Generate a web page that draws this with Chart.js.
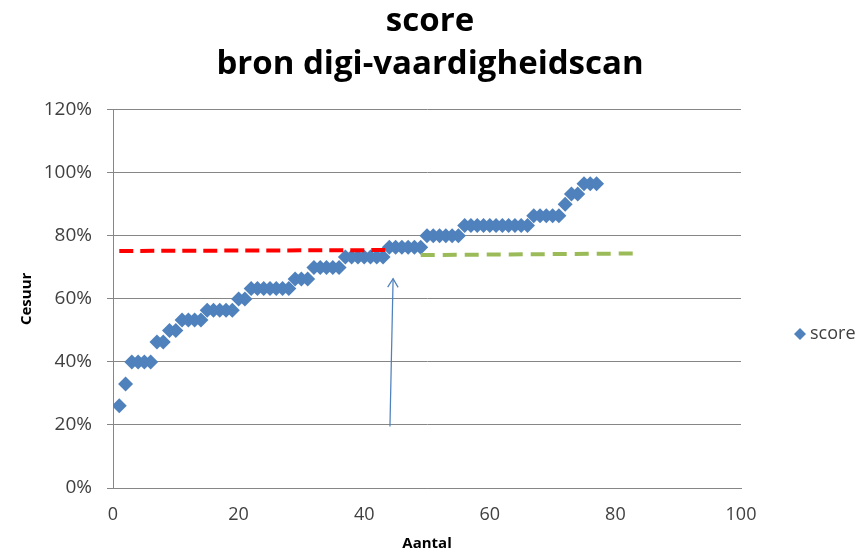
<!DOCTYPE html>
<html>
<head>
<meta charset="utf-8">
<script src="https://cdn.jsdelivr.net/npm/chart.js@4.4.1/dist/chart.umd.min.js"></script>
<style>
  html, body { margin: 0; padding: 0; background: #fff; }
  #wrap { width: 860px; height: 553px; }
</style>
</head>
<body>
<div id="wrap"><canvas id="scoreChart"></canvas></div>
<script>
"use strict";
// aantal (x) en score in % (y)
const aantal = [1, 2, 3, 4, 5, 6, 7, 8, 9, 10, 11, 12, 13, 14, 15, 16, 17, 18, 19, 20,
    21, 22, 23, 24, 25, 26, 27, 28, 29, 30, 31, 32, 33, 34, 35, 36, 37, 38, 39, 40,
    41, 42, 43, 44, 45, 46, 47, 48, 49, 50, 51, 52, 53, 54, 55, 56, 57, 58, 59, 60,
    61, 62, 63, 64, 65, 66, 67, 68, 69, 70, 71, 72, 73, 74, 75, 76, 77];
const score = [26.1, 33, 40, 40, 40, 40, 46.3, 46.3, 50, 50, 53.3, 53.3, 53.3, 53.3,
    56.4, 56.4, 56.4, 56.4, 56.4, 60, 60, 63.3, 63.3, 63.3, 63.3, 63.3, 63.3, 63.3,
    66.3, 66.3, 66.3, 70, 70, 70, 70, 70, 73.3, 73.3, 73.3, 73.3, 73.3, 73.3, 73.3,
    76.4, 76.4, 76.4, 76.4, 76.4, 76.4, 80, 80, 80, 80, 80, 80,
    83.3, 83.3, 83.3, 83.3, 83.3, 83.3, 83.3, 83.3, 83.3, 83.3, 83.3,
    86.4, 86.4, 86.4, 86.4, 86.4, 90, 93.3, 93.3, 96.5, 96.5, 96.5];
// cesuurlijnen en pijl
const roodX = [1, 43.6];
const roodY = [75.2, 75.5];
const groenX = [49, 82.8];
const groenY = [73.9, 74.4];
const pijlX = [44.1, 44.6];
const pijlY = [19.5, 66.4];
const xTicks = [0, 20, 40, 60, 80, 100];
const yTicks = [0, 20, 40, 60, 80, 100, 120];

const blauw = '#4F81BD';
const grijs = '#868686';
const tekst = '#404040';

function toPoints(xs, ys) {
    return xs.map((x, i) => ({ x: x, y: ys[i] }));
}

Chart.defaults.font.family = "'Open Sans', sans-serif";
Chart.defaults.color = tekst;

// pijlpunt bovenaan de pijl-lijn
const arrowHead = {
    id: 'arrowHead',
    afterDatasetsDraw(chart) {
        const meta = chart.getDatasetMeta(3);
        if (!meta || !meta.data.length) return;
        const p0 = meta.data[0];
        const p1 = meta.data[meta.data.length - 1];
        const ang = Math.atan2(p1.y - p0.y, p1.x - p0.x);
        const len = 10;
        const ctx = chart.ctx;
        ctx.save();
        ctx.strokeStyle = blauw;
        ctx.lineWidth = 1.25;
        ctx.beginPath();
        ctx.moveTo(p1.x - len * Math.cos(ang - 0.55), p1.y - len * Math.sin(ang - 0.55));
        ctx.lineTo(p1.x, p1.y);
        ctx.lineTo(p1.x - len * Math.cos(ang + 0.55), p1.y - len * Math.sin(ang + 0.55));
        ctx.stroke();
        ctx.restore();
    }
};

// legenda rechts naast het plotgebied
const scoreLegend = {
    id: 'scoreLegend',
    afterDraw(chart) {
        const area = chart.chartArea;
        const ctx = chart.ctx;
        const cx = area.right + 59;
        const cy = area.top + (area.bottom - area.top) * 0.593;
        ctx.save();
        ctx.fillStyle = blauw;
        ctx.beginPath();
        ctx.moveTo(cx, cy - 6);
        ctx.lineTo(cx + 6, cy);
        ctx.lineTo(cx, cy + 6);
        ctx.lineTo(cx - 6, cy);
        ctx.closePath();
        ctx.fill();
        ctx.fillStyle = tekst;
        ctx.font = "18px 'Open Sans', sans-serif";
        ctx.textBaseline = 'middle';
        ctx.fillText(chart.data.datasets[0].label, cx + 10, cy);
        ctx.restore();
    }
};

const context = document.getElementById('scoreChart');
const scoreChart = new Chart(context, {
    type: 'scatter',
    data: {
        datasets: [{
                label: 'score',
                data: toPoints(aantal, score),
                pointStyle: 'rectRot',
                pointRadius: 7.5,
                pointBackgroundColor: blauw,
                pointBorderWidth: 0,
                order: 2,
            }, {
                label: 'cesuur rood',
                type: 'line',
                data: toPoints(roodX, roodY),
                borderColor: '#FF0000',
                borderWidth: 4,
                borderDash: [14, 7],
                pointRadius: 0,
                order: 1,
            }, {
                label: 'cesuur groen',
                type: 'line',
                data: toPoints(groenX, groenY),
                borderColor: '#9BBB59',
                borderWidth: 4,
                borderDash: [14, 8],
                pointRadius: 0,
                order: 1,
            }, {
                label: 'pijl',
                type: 'line',
                data: toPoints(pijlX, pijlY),
                borderColor: blauw,
                borderWidth: 1.25,
                pointRadius: 0,
                order: 0,
            }],
    },
    options: {
        responsive: true,
        maintainAspectRatio: false,
        animation: false,
        layout: { padding: 0 },
        plugins: {
            legend: { display: false },
            tooltip: { enabled: false },
            title: {
                display: true,
                text: ['score', 'bron digi-vaardigheidscan'],
                color: '#000',
                font: { size: 33, weight: 'bold', lineHeight: 1.3 },
                padding: { top: 0, bottom: 24 },
            },
        },
        scales: {
            x: {
                type: 'linear',
                min: 0,
                max: 100,
                afterBuildTicks: axis => { axis.ticks = xTicks.map(v => ({ value: v })); },
                afterFit: axis => { axis.height = 65; },
                grid: { display: false },
                border: { display: true, color: grijs, width: 1 },
                ticks: { font: { size: 18 }, color: tekst, padding: 8 },
                title: {
                    display: true,
                    text: 'Aantal',
                    color: '#000',
                    font: { size: 15, weight: 'bold' },
                    padding: { top: 0, bottom: 0 },
                },
            },
            y: {
                type: 'linear',
                min: 0,
                max: 120,
                afterBuildTicks: axis => { axis.ticks = yTicks.map(v => ({ value: v })); },
                afterFit: axis => { axis.width = 113; },
                grid: { color: grijs, lineWidth: 1, tickLength: 6 },
                border: { display: true, color: grijs, width: 1 },
                ticks: { font: { size: 19 }, color: tekst, padding: 15, callback: v => v + '%' },
                title: {
                    display: true,
                    text: 'Cesuur',
                    color: '#000',
                    font: { size: 15, weight: 'bold' },
                    padding: { top: 18, bottom: 0 },
                },
            },
            ruimte: {
                type: 'linear',
                position: 'right',
                display: true,
                afterFit: axis => { axis.width = 119; },
                grid: { display: false },
                border: { display: false },
                ticks: { display: false },
            },
        },
    },
    plugins: [arrowHead, scoreLegend],
});
</script>
</body>
</html>
